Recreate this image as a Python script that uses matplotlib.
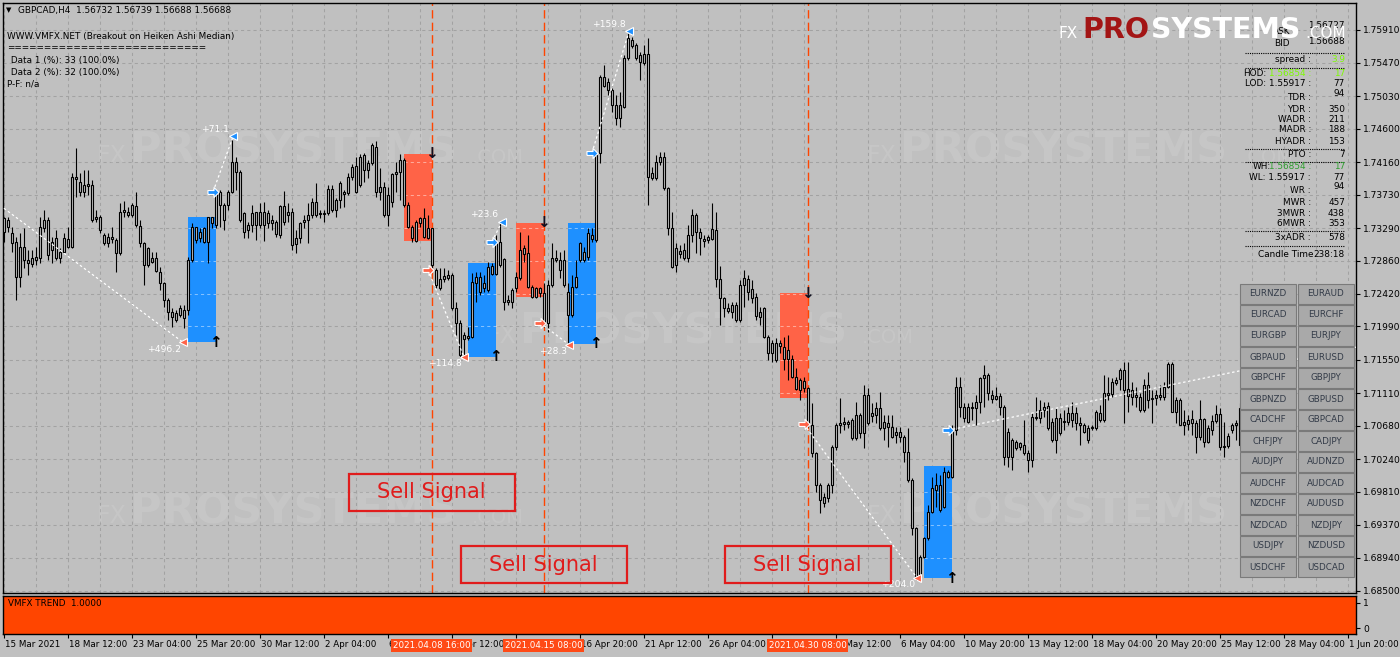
import numpy as np
import matplotlib
matplotlib.use("Agg")
import matplotlib.pyplot as plt
from matplotlib.patches import Rectangle
from matplotlib.path import Path
import matplotlib.transforms as mtransforms

plt.rcParams['font.family'] = ['DejaVu Sans']

W, H = 1400, 657
BG = "#c0c0c0"
GRID = "#a2a2a2"
BLUE = "#1e90ff"
RED = "#ff6347"
SIG = "#ff4500"
TREND = "#ff4500"

# GBPCAD H4, bar 0 = 15 Mar 2021 16:00
opens = [
    1.7342, 1.7330, 1.7322, 1.7311, 1.7264, 1.7304, 1.7287, 1.7282, 1.7291, 1.7289,
    1.7329, 1.7340, 1.7300, 1.7316, 1.7289, 1.7297, 1.7315, 1.7304, 1.7396, 1.7390,
    1.7377, 1.7384, 1.7386, 1.7341, 1.7344, 1.7320, 1.7309, 1.7317, 1.7313, 1.7296,
    1.7350, 1.7350, 1.7346, 1.7358, 1.7332, 1.7309, 1.7280, 1.7289, 1.7289, 1.7271,
    1.7256, 1.7234, 1.7218, 1.7208, 1.7214, 1.7221, 1.7221, 1.7287, 1.7330, 1.7316,
    1.7329, 1.7311, 1.7344, 1.7333, 1.7377, 1.7359, 1.7359, 1.7377, 1.7416, 1.7403,
    1.7349, 1.7326, 1.7333, 1.7350, 1.7333, 1.7350, 1.7336, 1.7340, 1.7337, 1.7320,
    1.7358, 1.7346, 1.7350, 1.7308, 1.7316, 1.7337, 1.7340, 1.7346, 1.7363, 1.7348,
    1.7349, 1.7349, 1.7381, 1.7353, 1.7366, 1.7377, 1.7375, 1.7396, 1.7411, 1.7386,
    1.7425, 1.7406, 1.7415, 1.7436, 1.7377, 1.7383, 1.7346, 1.7363, 1.7400, 1.7403,
    1.7419, 1.7359, 1.7330, 1.7312, 1.7336, 1.7342, 1.7316, 1.7329, 1.7274, 1.7250,
    1.7262, 1.7267, 1.7267, 1.7223, 1.7204, 1.7183, 1.7186, 1.7185, 1.7256, 1.7264,
    1.7250, 1.7247, 1.7279, 1.7268, 1.7311, 1.7288, 1.7231, 1.7231, 1.7250, 1.7263,
    1.7303, 1.7296, 1.7251, 1.7238, 1.7250, 1.7243, 1.7204, 1.7254, 1.7289, 1.7287,
    1.7287, 1.7245, 1.7214, 1.7251, 1.7287, 1.7297, 1.7291, 1.7320, 1.7313, 1.7428,
    1.7528, 1.7522, 1.7511, 1.7491, 1.7474, 1.7489, 1.7553, 1.7577, 1.7571, 1.7557,
    1.7547, 1.7559, 1.7395, 1.7395, 1.7416, 1.7423, 1.7382, 1.7329, 1.7280, 1.7299,
    1.7289, 1.7289, 1.7320, 1.7346, 1.7324, 1.7315, 1.7313, 1.7315, 1.7326, 1.7262,
    1.7237, 1.7223, 1.7218, 1.7227, 1.7208, 1.7254, 1.7262, 1.7249, 1.7238, 1.7212,
    1.7223, 1.7185, 1.7164, 1.7177, 1.7173, 1.7172, 1.7156, 1.7156, 1.7132, 1.7115,
    1.7127, 1.7118, 1.7069, 1.7032, 1.6990, 1.6974, 1.6973, 1.6990, 1.7040, 1.7069,
    1.7070, 1.7073, 1.7076, 1.7052, 1.7082, 1.7058, 1.7109, 1.7081, 1.7082, 1.7091,
    1.7065, 1.7072, 1.7066, 1.7056, 1.7060, 1.7053, 1.7033, 1.6996, 1.6933, 1.6868,
    1.6895, 1.6920, 1.6954, 1.6983, 1.6990, 1.6961, 1.7007, 1.7000, 1.7062, 1.7119,
    1.7093, 1.7073, 1.7093, 1.7091, 1.7099, 1.7131, 1.7135, 1.7109, 1.7103, 1.7107,
    1.7093, 1.7027, 1.7049, 1.7039, 1.7045, 1.7043, 1.7032, 1.7023, 1.7080, 1.7078,
    1.7089, 1.7094, 1.7073, 1.7049, 1.7078, 1.7073, 1.7073, 1.7085, 1.7072, 1.7072,
    1.7069, 1.7065, 1.7065, 1.7065, 1.7085, 1.7076, 1.7111, 1.7110, 1.7124, 1.7130,
    1.7142, 1.7117, 1.7106, 1.7109, 1.7106, 1.7089, 1.7122, 1.7103, 1.7105, 1.7109,
    1.7106, 1.7119, 1.7150, 1.7086, 1.7102, 1.7069, 1.7070, 1.7077, 1.7072, 1.7053,
    1.7077, 1.7047, 1.7062, 1.7074, 1.7084, 1.7040, 1.7041, 1.7062, 1.7069, 1.7043,
]
highs = [
    1.7344, 1.7344, 1.7330, 1.7317, 1.7322, 1.7329, 1.7300, 1.7300, 1.7304, 1.7344,
    1.7353, 1.7344, 1.7317, 1.7326, 1.7303, 1.7322, 1.7330, 1.7402, 1.7435, 1.7402,
    1.7406, 1.7406, 1.7392, 1.7353, 1.7346, 1.7322, 1.7322, 1.7330, 1.7316, 1.7362,
    1.7365, 1.7357, 1.7362, 1.7377, 1.7340, 1.7311, 1.7304, 1.7297, 1.7297, 1.7278,
    1.7258, 1.7237, 1.7223, 1.7221, 1.7227, 1.7227, 1.7291, 1.7336, 1.7330, 1.7329,
    1.7330, 1.7344, 1.7344, 1.7379, 1.7379, 1.7362, 1.7379, 1.7445, 1.7423, 1.7406,
    1.7350, 1.7337, 1.7359, 1.7350, 1.7362, 1.7363, 1.7353, 1.7346, 1.7340, 1.7359,
    1.7378, 1.7362, 1.7355, 1.7326, 1.7337, 1.7346, 1.7362, 1.7369, 1.7388, 1.7353,
    1.7353, 1.7386, 1.7386, 1.7369, 1.7391, 1.7379, 1.7402, 1.7414, 1.7423, 1.7427,
    1.7428, 1.7419, 1.7441, 1.7444, 1.7408, 1.7390, 1.7383, 1.7402, 1.7416, 1.7427,
    1.7421, 1.7363, 1.7333, 1.7340, 1.7344, 1.7355, 1.7346, 1.7329, 1.7276, 1.7276,
    1.7276, 1.7274, 1.7270, 1.7231, 1.7208, 1.7192, 1.7198, 1.7270, 1.7271, 1.7271,
    1.7267, 1.7284, 1.7283, 1.7320, 1.7336, 1.7289, 1.7241, 1.7250, 1.7271, 1.7324,
    1.7307, 1.7320, 1.7254, 1.7251, 1.7251, 1.7256, 1.7260, 1.7309, 1.7300, 1.7297,
    1.7300, 1.7256, 1.7267, 1.7287, 1.7311, 1.7304, 1.7329, 1.7329, 1.7428, 1.7531,
    1.7544, 1.7527, 1.7514, 1.7505, 1.7509, 1.7557, 1.7586, 1.7581, 1.7573, 1.7561,
    1.7571, 1.7580, 1.7410, 1.7425, 1.7429, 1.7429, 1.7383, 1.7350, 1.7309, 1.7307,
    1.7309, 1.7333, 1.7354, 1.7349, 1.7329, 1.7320, 1.7320, 1.7362, 1.7350, 1.7279,
    1.7238, 1.7230, 1.7231, 1.7231, 1.7260, 1.7274, 1.7267, 1.7260, 1.7243, 1.7225,
    1.7225, 1.7188, 1.7181, 1.7184, 1.7181, 1.7185, 1.7188, 1.7161, 1.7144, 1.7131,
    1.7132, 1.7119, 1.7098, 1.7033, 1.6992, 1.6979, 1.6992, 1.7043, 1.7072, 1.7105,
    1.7080, 1.7076, 1.7078, 1.7099, 1.7085, 1.7122, 1.7118, 1.7098, 1.7099, 1.7113,
    1.7082, 1.7082, 1.7082, 1.7066, 1.7066, 1.7056, 1.7065, 1.6999, 1.6934, 1.6897,
    1.6921, 1.6963, 1.7000, 1.7006, 1.7003, 1.7014, 1.7010, 1.7069, 1.7132, 1.7132,
    1.7098, 1.7098, 1.7099, 1.7109, 1.7132, 1.7148, 1.7138, 1.7115, 1.7119, 1.7111,
    1.7095, 1.7065, 1.7052, 1.7049, 1.7047, 1.7076, 1.7036, 1.7085, 1.7106, 1.7102,
    1.7099, 1.7099, 1.7078, 1.7091, 1.7085, 1.7089, 1.7093, 1.7099, 1.7093, 1.7080,
    1.7072, 1.7069, 1.7069, 1.7089, 1.7095, 1.7135, 1.7132, 1.7131, 1.7132, 1.7144,
    1.7152, 1.7152, 1.7126, 1.7119, 1.7111, 1.7130, 1.7139, 1.7115, 1.7115, 1.7122,
    1.7126, 1.7152, 1.7152, 1.7106, 1.7105, 1.7089, 1.7082, 1.7089, 1.7076, 1.7102,
    1.7078, 1.7069, 1.7082, 1.7095, 1.7091, 1.7073, 1.7058, 1.7072, 1.7076, 1.7098,
]
lows = [
    1.7311, 1.7324, 1.7297, 1.7234, 1.7251, 1.7276, 1.7267, 1.7278, 1.7280, 1.7283,
    1.7324, 1.7287, 1.7283, 1.7287, 1.7283, 1.7296, 1.7303, 1.7303, 1.7370, 1.7371,
    1.7370, 1.7373, 1.7337, 1.7337, 1.7322, 1.7307, 1.7304, 1.7309, 1.7271, 1.7293,
    1.7344, 1.7344, 1.7344, 1.7330, 1.7304, 1.7254, 1.7278, 1.7283, 1.7271, 1.7247,
    1.7225, 1.7208, 1.7198, 1.7205, 1.7212, 1.7197, 1.7214, 1.7284, 1.7309, 1.7311,
    1.7309, 1.7283, 1.7329, 1.7329, 1.7330, 1.7326, 1.7353, 1.7375, 1.7379, 1.7337,
    1.7316, 1.7316, 1.7324, 1.7313, 1.7329, 1.7312, 1.7329, 1.7326, 1.7317, 1.7316,
    1.7333, 1.7337, 1.7300, 1.7296, 1.7309, 1.7329, 1.7309, 1.7342, 1.7344, 1.7342,
    1.7337, 1.7346, 1.7350, 1.7344, 1.7355, 1.7357, 1.7373, 1.7392, 1.7375, 1.7383,
    1.7390, 1.7395, 1.7412, 1.7370, 1.7366, 1.7344, 1.7332, 1.7357, 1.7377, 1.7366,
    1.7357, 1.7329, 1.7311, 1.7311, 1.7330, 1.7316, 1.7315, 1.7276, 1.7250, 1.7247,
    1.7258, 1.7260, 1.7221, 1.7188, 1.7159, 1.7161, 1.7181, 1.7184, 1.7231, 1.7241,
    1.7245, 1.7245, 1.7267, 1.7267, 1.7278, 1.7221, 1.7227, 1.7223, 1.7245, 1.7260,
    1.7284, 1.7250, 1.7237, 1.7237, 1.7238, 1.7198, 1.7192, 1.7251, 1.7284, 1.7263,
    1.7251, 1.7177, 1.7212, 1.7250, 1.7284, 1.7284, 1.7287, 1.7311, 1.7311, 1.7415,
    1.7515, 1.7505, 1.7482, 1.7465, 1.7462, 1.7487, 1.7551, 1.7567, 1.7551, 1.7524,
    1.7544, 1.7359, 1.7392, 1.7392, 1.7412, 1.7379, 1.7320, 1.7276, 1.7271, 1.7289,
    1.7287, 1.7284, 1.7311, 1.7296, 1.7293, 1.7304, 1.7309, 1.7313, 1.7251, 1.7201,
    1.7212, 1.7217, 1.7210, 1.7205, 1.7205, 1.7225, 1.7234, 1.7230, 1.7208, 1.7201,
    1.7184, 1.7155, 1.7152, 1.7152, 1.7164, 1.7142, 1.7128, 1.7131, 1.7115, 1.7102,
    1.7113, 1.7066, 1.7027, 1.6981, 1.6953, 1.6961, 1.6967, 1.6979, 1.7036, 1.7058,
    1.7062, 1.7065, 1.7049, 1.7049, 1.7052, 1.7039, 1.7069, 1.7073, 1.7072, 1.7062,
    1.7049, 1.7040, 1.7052, 1.7045, 1.7047, 1.7020, 1.6994, 1.6924, 1.6864, 1.6867,
    1.6893, 1.6917, 1.6953, 1.6961, 1.6954, 1.6959, 1.6999, 1.6999, 1.7056, 1.7080,
    1.7073, 1.7072, 1.7076, 1.7069, 1.7085, 1.7093, 1.7102, 1.7098, 1.7102, 1.7082,
    1.7016, 1.7014, 1.7010, 1.7036, 1.7036, 1.7029, 1.7007, 1.7014, 1.7076, 1.7072,
    1.7080, 1.7062, 1.7047, 1.7032, 1.7056, 1.7062, 1.7069, 1.7066, 1.7062, 1.7043,
    1.7058, 1.7045, 1.7062, 1.7062, 1.7073, 1.7073, 1.7102, 1.7106, 1.7122, 1.7115,
    1.7072, 1.7086, 1.7095, 1.7093, 1.7086, 1.7086, 1.7091, 1.7072, 1.7095, 1.7102,
    1.7102, 1.7118, 1.7086, 1.7072, 1.7069, 1.7056, 1.7062, 1.7056, 1.7032, 1.7049,
    1.7040, 1.7045, 1.7056, 1.7072, 1.7036, 1.7027, 1.7039, 1.7058, 1.7049, 1.7039,
]
closes = [
    1.7324, 1.7340, 1.7309, 1.7264, 1.7304, 1.7287, 1.7283, 1.7289, 1.7287, 1.7330,
    1.7340, 1.7293, 1.7311, 1.7289, 1.7297, 1.7316, 1.7304, 1.7396, 1.7394, 1.7377,
    1.7386, 1.7387, 1.7340, 1.7344, 1.7326, 1.7309, 1.7317, 1.7315, 1.7296, 1.7350,
    1.7353, 1.7346, 1.7359, 1.7333, 1.7309, 1.7280, 1.7303, 1.7284, 1.7272, 1.7256,
    1.7234, 1.7218, 1.7212, 1.7217, 1.7223, 1.7210, 1.7287, 1.7330, 1.7313, 1.7324,
    1.7311, 1.7344, 1.7336, 1.7377, 1.7359, 1.7340, 1.7377, 1.7416, 1.7403, 1.7340,
    1.7324, 1.7333, 1.7349, 1.7333, 1.7350, 1.7333, 1.7349, 1.7336, 1.7321, 1.7358,
    1.7337, 1.7350, 1.7307, 1.7316, 1.7336, 1.7340, 1.7346, 1.7363, 1.7346, 1.7349,
    1.7348, 1.7381, 1.7353, 1.7366, 1.7388, 1.7374, 1.7396, 1.7410, 1.7377, 1.7423,
    1.7406, 1.7415, 1.7439, 1.7377, 1.7383, 1.7346, 1.7373, 1.7400, 1.7403, 1.7419,
    1.7359, 1.7330, 1.7316, 1.7337, 1.7342, 1.7317, 1.7329, 1.7280, 1.7254, 1.7262,
    1.7266, 1.7263, 1.7223, 1.7204, 1.7161, 1.7188, 1.7184, 1.7258, 1.7264, 1.7245,
    1.7256, 1.7278, 1.7268, 1.7311, 1.7280, 1.7231, 1.7234, 1.7247, 1.7264, 1.7300,
    1.7295, 1.7251, 1.7238, 1.7250, 1.7243, 1.7204, 1.7254, 1.7289, 1.7287, 1.7274,
    1.7254, 1.7214, 1.7251, 1.7264, 1.7309, 1.7287, 1.7322, 1.7315, 1.7425, 1.7528,
    1.7516, 1.7511, 1.7491, 1.7474, 1.7491, 1.7553, 1.7580, 1.7569, 1.7553, 1.7548,
    1.7559, 1.7396, 1.7402, 1.7416, 1.7423, 1.7382, 1.7329, 1.7278, 1.7303, 1.7295,
    1.7300, 1.7320, 1.7346, 1.7324, 1.7316, 1.7312, 1.7317, 1.7328, 1.7262, 1.7237,
    1.7223, 1.7219, 1.7227, 1.7208, 1.7254, 1.7263, 1.7245, 1.7237, 1.7213, 1.7218,
    1.7185, 1.7164, 1.7177, 1.7155, 1.7177, 1.7156, 1.7168, 1.7132, 1.7117, 1.7128,
    1.7118, 1.7072, 1.7032, 1.6990, 1.6970, 1.6966, 1.6990, 1.7040, 1.7069, 1.7072,
    1.7073, 1.7070, 1.7052, 1.7082, 1.7058, 1.7109, 1.7072, 1.7085, 1.7091, 1.7065,
    1.7073, 1.7066, 1.7053, 1.7060, 1.7053, 1.7033, 1.6996, 1.6933, 1.6868, 1.6895,
    1.6920, 1.6954, 1.6986, 1.6990, 1.6957, 1.7007, 1.7000, 1.7062, 1.7119, 1.7093,
    1.7078, 1.7093, 1.7091, 1.7099, 1.7131, 1.7135, 1.7111, 1.7103, 1.7107, 1.7093,
    1.7027, 1.7060, 1.7027, 1.7047, 1.7040, 1.7032, 1.7023, 1.7080, 1.7078, 1.7089,
    1.7093, 1.7065, 1.7049, 1.7078, 1.7058, 1.7074, 1.7085, 1.7076, 1.7085, 1.7069,
    1.7060, 1.7049, 1.7066, 1.7086, 1.7076, 1.7111, 1.7109, 1.7126, 1.7128, 1.7142,
    1.7115, 1.7107, 1.7115, 1.7106, 1.7089, 1.7122, 1.7102, 1.7105, 1.7109, 1.7106,
    1.7119, 1.7150, 1.7086, 1.7102, 1.7069, 1.7073, 1.7076, 1.7072, 1.7053, 1.7077,
    1.7047, 1.7065, 1.7074, 1.7084, 1.7040, 1.7041, 1.7054, 1.7069, 1.7072, 1.7091,
]

n_axis_bars = 339          # bars covered by the time scale (last ones sit under the panel)
date_step = 16
date_labels = ["15 Mar 2021", "18 Mar 12:00", "23 Mar 04:00", "25 Mar 20:00", "30 Mar 12:00",
               "2 Apr 04:00", "6 Apr 20:00", "9 Apr 12:00", "14 Apr 04:00", "16 Apr 20:00",
               "21 Apr 12:00", "26 Apr 04:00", "28 Apr 20:00", "3 May 12:00", "6 May 04:00",
               "10 May 20:00", "13 May 12:00", "18 May 04:00", "20 May 20:00", "25 May 12:00",
               "28 May 04:00", "1 Jun 20:00"]
price_ticks = [1.75910, 1.75470, 1.75030, 1.74600, 1.74160, 1.73730, 1.73290, 1.72860, 1.72420,
               1.71990, 1.71550, 1.71110, 1.70680, 1.70240, 1.69810, 1.69370, 1.68940, 1.68500]

# breakout boxes
box_start = [46, 100, 116, 128, 141, 194, 230]
box_end = [53, 107, 123, 135, 148, 201, 237]
box_top = [1.7344, 1.7427, 1.7283, 1.7336, 1.7336, 1.7243, 1.7015]
box_bottom = [1.7178, 1.7312, 1.7159, 1.7238, 1.7176, 1.7105, 1.6867]
box_side = ["buy", "sell", "buy", "sell", "buy", "sell", "buy"]

signal_bars = [107, 135, 201]
signal_times = ["2021.04.08 16:00", "2021.04.15 08:00", "2021.04.30 08:00"]
signal_row = [0, 1, 1]

# trades (zigzag)
entry_bar = [-0.9, 52.4, 106.1, 122.1, 134.1, 147.1, 200.1, 236.1]
entry_price = [1.7359, 1.7377, 1.7274, 1.7311, 1.7204, 1.7428, 1.7070, 1.7062]
exit_bar = [44.9, 57.4, 115.1, 124.6, 141.4, 156.4, 228.4, 338.4]
exit_price = [1.7178, 1.7450, 1.7159, 1.7337, 1.7175, 1.7589, 1.6867, 1.7172]
trade_result = ["+496.2", "+71.1", "+114.8", "+23.6", "+28.3", "+159.8", "+204.0", ""]
trade_side = ["sell", "buy", "sell", "buy", "sell", "buy", "sell", "buy"]

trend_level = 1.0

buttons = [("EURNZD", "EURAUD"), ("EURCAD", "EURCHF"), ("EURGBP", "EURJPY"), ("GBPAUD", "EURUSD"),
           ("GBPCHF", "GBPJPY"), ("GBPNZD", "GBPUSD"), ("CADCHF", "GBPCAD"), ("CHFJPY", "CADJPY"),
           ("AUDJPY", "AUDNZD"), ("AUDCHF", "AUDCAD"), ("NZDCHF", "AUDUSD"), ("NZDCAD", "NZDJPY"),
           ("USDJPY", "NZDUSD"), ("USDCHF", "USDCAD")]


def fx(x):
    return x / W


def fy(y):
    return 1 - y / H


fig = plt.figure(figsize=(W / 100, H / 100), dpi=100, facecolor=BG)

# ---------- main chart
ax = fig.add_axes([3 / W, 64 / H, 1353 / W, 590 / H], facecolor=BG)
ax.set_xlim(-0.125, n_axis_bars - 0.875)
ax.set_ylim(1.68472, 1.76260)
ax.set_yticks(price_ticks)
ax.set_yticklabels(["%.5f" % p for p in price_ticks])
ax.set_xticks(range(0, n_axis_bars, 8))
ax.grid(True, color=GRID, linestyle=(0, (3, 3)), lw=0.75)
ax.set_axisbelow(True)
ax.tick_params(axis="x", length=0, labelbottom=False)
ax.yaxis.tick_right()
ax.tick_params(axis="y", direction="out", length=3, width=0.8, pad=2, labelsize=6.6, colors="black")
for s in ax.spines.values():
    s.set_color("black")
    s.set_linewidth(1)

# watermarks
wm = dict(color="white", alpha=0.1, va="baseline", transform=fig.transFigure, zorder=1)
for x0, yb in [(130, 163), (900, 163), (520, 343), (130, 523), (900, 523)]:
    ax.text(fx(x0 - 33), fy(yb), "FX", fontsize=17, **wm)
    ax.text(fx(x0), fy(yb), "PROSYSTEMS", fontsize=31, fontweight="bold", **wm)
    ax.text(fx(x0 + 342), fy(yb), ".COM", fontsize=14, **wm)

# boxes
for s0, e0, top, bot, side in zip(box_start, box_end, box_top, box_bottom, box_side):
    col = BLUE if side == "buy" else RED
    ax.add_patch(Rectangle((s0, bot), e0 - s0, top - bot, facecolor=col, edgecolor="none", zorder=1.5))
    inside = [p for p in price_ticks if bot < p < top]
    if inside:
        ax.hlines(inside, s0, e0, colors="white", alpha=0.45, linestyles=(0, (3, 3)), lw=0.75, zorder=1.6)
    if side == "buy":
        ax.text(e0, bot, "\u2191", ha="center", va="center", fontsize=11, fontweight="bold", color="black", zorder=8)
    else:
        ax.text(e0, top, "\u2193", ha="center", va="center", fontsize=11, fontweight="bold", color="#101020", zorder=8)

# signal lines
for b in signal_bars:
    ax.axvline(b, color=SIG, lw=1, linestyle=(0, (6, 3)), zorder=2)

# candles
bars = np.arange(len(closes))
o = np.array(opens)
c = np.array(closes)
hi = np.maximum(np.array(highs), np.maximum(o, c))
lo = np.minimum(np.array(lows), np.minimum(o, c))
ax.vlines(bars, lo, hi, color="black", lw=0.8, zorder=3)
body_lo = np.minimum(o, c)
body_h = np.maximum(np.abs(c - o), 0.00003)
ax.bar(bars, body_h, bottom=body_lo, width=0.5, facecolor=BG, edgecolor="black", linewidth=0.8, zorder=4)

# zigzag trades
arrow_marker = Path([(-1, -0.35), (0.1, -0.35), (0.1, -0.9), (1, 0), (0.1, 0.9), (0.1, 0.35), (-1, 0.35), (-1, -0.35)])
for eb, ep, xb, xp, res, side in zip(entry_bar, entry_price, exit_bar, exit_price, trade_result, trade_side):
    col = BLUE if side == "buy" else RED
    ax.plot([eb, xb], [ep, xp], color="white", lw=0.9, linestyle=(0, (2, 2)), zorder=6, clip_on=True)
    if eb >= 0:
        ax.plot(eb, ep, marker=arrow_marker, ms=8, mfc=col, mec="white", mew=0.8, zorder=7)
    if res:
        ax.plot(xb, xp, marker="<", ms=5.5, mfc=col, mec="white", mew=0.8, zorder=7)
        off = (-1, -5) if side == "sell" else (-2, 5)
        ax.annotate(res, (xb, xp), xytext=off, textcoords="offset points", ha="right", va="center",
                    color="white", fontsize=6.6, zorder=7)

# Sell Signal boxes
blend = mtransforms.blended_transform_factory(ax.transData, ax.transAxes)
rows = [(0.139, 0.2017), (0.0169, 0.0797)]
for b, r in zip(signal_bars, signal_row):
    y0, y1 = rows[r]
    ax.add_patch(Rectangle((b - 20.75, y0), 41.5, y1 - y0, transform=blend, fill=False,
                           edgecolor="#e01c1c", lw=1.6, zorder=8))
    ax.text(b, (y0 + y1) / 2, "Sell Signal", transform=blend, ha="center", va="center",
            color="#e01c1c", fontsize=15, zorder=8)

# ---------- indicator panel
ax2 = fig.add_axes([3 / W, 23 / H, 1353 / W, 38 / H], facecolor=BG)
ax2.set_xlim(-0.125, n_axis_bars - 0.875)
ax2.set_ylim(-0.24, 1.28)
lc = ax2.vlines(np.arange(n_axis_bars), 0, trend_level, colors=TREND, lw=10)
lc.set_capstyle("projecting")
ax2.yaxis.tick_right()
ax2.set_yticks([0, 1])
ax2.set_yticklabels(["0", "1"])
ax2.tick_params(axis="y", direction="out", length=3, width=0.8, pad=2, labelsize=6.6)
ax2.set_xticks(range(0, n_axis_bars, date_step))
ax2.set_xticklabels(date_labels)
ax2.tick_params(axis="x", direction="out", length=3, width=0.8, pad=1.5, labelsize=6.3)
shift = mtransforms.ScaledTranslation(1.5 / 100, 0, fig.dpi_scale_trans)
for t in ax2.get_xticklabels():
    t.set_horizontalalignment("left")
    t.set_transform(t.get_transform() + shift)
for s in ax2.spines.values():
    s.set_color("black")
    s.set_linewidth(1)
ax2.text(0.0037, 0.79, "VMFX TREND  1.0000", transform=ax2.transAxes, fontsize=6.3, va="center", color="black")
blend2 = mtransforms.blended_transform_factory(ax2.transData, ax2.transAxes)
for b, s in zip(signal_bars, signal_times):
    ax2.text(b, -0.30, s, transform=blend2, ha="center", va="center", color="white", fontsize=6.3,
             bbox=dict(boxstyle="square,pad=0.2", fc="#ff4a16", ec="none"), zorder=10, clip_on=False)

# ---------- header texts
ui = dict(fontsize=6.4, color="black", va="center")
fig.text(fx(6), fy(10), "\u25bc", fontsize=5, color="black", va="center")
fig.text(fx(18), fy(10), "GBPCAD,H4  1.56732 1.56739 1.56688 1.56688", **ui)
fig.text(fx(7), fy(36), "WWW.VMFX.NET (Breakout on Heiken Ashi Median)", **ui)
fig.text(fx(7), fy(48), "=" * 27, **ui)
fig.text(fx(8), fy(61), " Data 1 (%): 33 (100.0%)", **ui)
fig.text(fx(8), fy(72), " Data 2 (%): 32 (100.0%)", **ui)
fig.text(fx(7), fy(84), "P-F: n/a", **ui)

# ---------- info panel (right)
LBL_R, VAL_R = 1311, 1345
fig.text(fx(1290), fy(31), "ASK", ha="right", **ui)
fig.text(fx(VAL_R), fy(26), "1.56727", ha="right", **ui)
fig.text(fx(1290), fy(43), "BID", ha="right", **ui)
fig.text(fx(VAL_R), fy(41), "1.56688", ha="right", **ui)
GREEN = "#7cfc00"
DGREEN = "#2f9e2f"
info_rows = [
    # prefix, prefix_right, label, label_color, value, value_color, y_label, y_value
    ("", 0, "spread :", "black", "3.9", GREEN, 60, 60),
    ("HOD:", 1266, "1.56854 :", GREEN, "17", GREEN, 74, 74),
    ("", 0, "LOD: 1.55917 :", "black", "77", "black", 84, 84),
    ("", 0, "TDR :", "black", "94", "black", 98, 94),
    ("", 0, "YDR :", "black", "350", "black", 109, 109),
    ("", 0, "WADR :", "black", "211", "black", 120, 120),
    ("", 0, "MADR :", "black", "188", "black", 130, 130),
    ("", 0, "HYADR :", "black", "153", "black", 141, 141),
    ("", 0, "PTO :", "black", "7", "black", 155, 155),
    ("WH:", 1271, "1.56854 :", DGREEN, "17", DGREEN, 167, 167),
    ("", 0, "WL: 1.55917 :", "black", "77", "black", 178, 178),
    ("", 0, "WR :", "black", "94", "black", 191, 187),
    ("", 0, "MWR :", "black", "457", "black", 203, 203),
    ("", 0, "3MWR :", "black", "438", "black", 213, 213),
    ("", 0, "6MWR :", "black", "353", "black", 224, 224),
    ("", 0, "3xADR :", "black", "578", "black", 238, 238),
]
for pre, pre_r, lab, lab_c, val, val_c, yl, yv in info_rows:
    if pre:
        fig.text(fx(pre_r), fy(yl), pre, ha="right", fontsize=6.4, color="black", va="center")
    fig.text(fx(LBL_R), fy(yl), lab, ha="right", fontsize=6.4, color=lab_c, va="center")
    fig.text(fx(VAL_R), fy(yv), val, ha="right", fontsize=6.4, color=val_c, va="center")
for ys in [53, 68, 149, 162, 231, 246]:
    fig.add_artist(plt.Line2D([fx(1245), fx(1345)], [fy(ys), fy(ys)], transform=fig.transFigure,
                              color="black", lw=0.8, linestyle=(0, (1, 1))))
fig.text(fx(1258), fy(255), "Candle Time", **ui)
fig.text(fx(VAL_R), fy(255), "238:18", ha="right", **ui)

# logo
fig.text(fx(1058), fy(38), "FX", fontsize=11, color="white", va="baseline", zorder=9)
fig.text(fx(1082), fy(38), "PRO", fontsize=20.5, fontweight="bold", color="#a31515", va="baseline", zorder=9)
fig.text(fx(1151), fy(38), "SYSTEMS", fontsize=20.5, fontweight="bold", color="white", va="baseline", zorder=9)
fig.text(fx(1305), fy(38), ".COM", fontsize=11, color="white", va="baseline", zorder=9)

# symbol buttons
for k, (left, right) in enumerate(buttons):
    top = 284 + 21 * k
    for x0, name in [(1240, left), (1298, right)]:
        fig.add_artist(Rectangle((fx(x0), fy(top + 20)), 56 / W, 20 / H, transform=fig.transFigure,
                                 facecolor="#a9a9a9", edgecolor="#7a7a7a", lw=0.8, zorder=5))
        fig.text(fx(x0 + 28), fy(top + 10), name, ha="center", va="center", fontsize=6.3,
                 color="#333b48", zorder=6)

fig.savefig("out.png", dpi=100, facecolor=BG)
